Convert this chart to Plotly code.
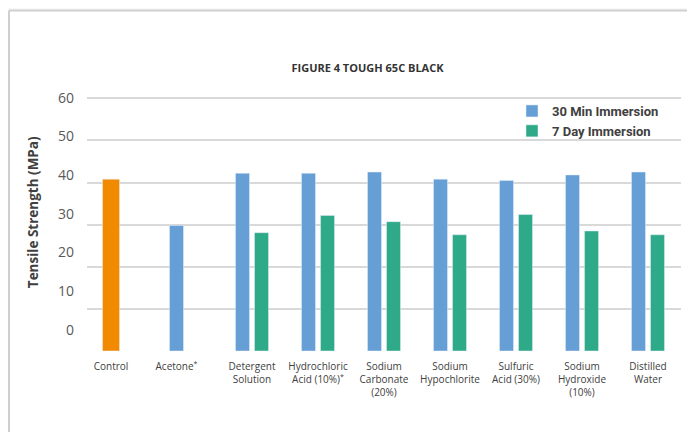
import plotly.graph_objects as go

# ---- data ----
categories = ["Control", "Acetone<sup>*</sup>", "Detergent<br>Solution", "Hydrochloric<br>Acid (10%)<sup>*</sup>",
              "Sodium<br>Carbonate<br>(20%)", "Sodium<br>Hypochlorite", "Sulfuric<br>Acid (30%)",
              "Sodium<br>Hydroxide<br>(10%)", "Distilled<br>Water"]
control_value = [40.8, None, None, None, None, None, None, None, None]
min30_values = [None, 29.8, 42.2, 42.2, 42.5, 40.8, 40.5, 41.8, 42.5]
day7_values = [None, None, 28.1, 32.2, 30.7, 27.6, 32.4, 28.5, 27.6]
y_ticks = [0, 10, 20, 30, 40, 50, 60]

# ---- style ----
PAGE = 8                      # default body margin of the html page
W, H = 695 - PAGE, 432 - PAGE
Y_TOP = 61.5                  # top of value range (headroom above the 60 grid line)
PX_PER_UNIT = (351 - 98) / 60
PL, PR, PB = 87, 681, 351     # plot area in screen pixels
PT = PB - Y_TOP * PX_PER_UNIT
L, T = PL - PAGE, PT - PAGE
R = W - (PL - PAGE) - (PR - PL)
B = H - (PT - PAGE) - (PB - PT)
PW, PH = PR - PL, PB - PT
BLUE, GREEN, ORANGE = "#669fd6", "#2eaa89", "#f28a00"
FONT = "Open Sans"

# label axis: labels are drawn 0 at 330 px and 60 at 97.3 px
LAB_PX = (330 - 97.3) / 60
Y2_BOT = -(PB - 330) / LAB_PX
Y2_TOP = 60 + (97.3 - PT) / LAB_PX

BW = 0.212          # bar width (category units)
OFF_BLUE, OFF_GREEN = -0.25, 0.038
CTRL_W, OFF_CTRL = 0.258, -0.265

x = list(range(len(categories)))

def px_x(p):  # screen px -> paper
    return (p - PL) / PW

def px_y(p):
    return (PB - p) / PH

def cx(p):   # screen px -> container
    return (p - PAGE) / W

def cy(p):
    return 1 - (p - PAGE) / H

# label positions: centre of the bars present in each category
tickpos = []
for i in x:
    centers = []
    if control_value[i] is not None:
        centers.append(i + OFF_CTRL + CTRL_W / 2)
    if min30_values[i] is not None:
        centers.append(i + OFF_BLUE + BW / 2)
    if day7_values[i] is not None:
        centers.append(i + OFF_GREEN + BW / 2)
    tickpos.append(sum(centers) / len(centers))

fig = go.Figure()
fig.add_trace(go.Bar(x=x, y=control_value, name="Control", marker_color=ORANGE,
                     width=CTRL_W, offset=OFF_CTRL, showlegend=False))
fig.add_trace(go.Bar(x=x, y=min30_values, name="30 Min Immersion", marker_color=BLUE,
                     width=BW, offset=OFF_BLUE))
fig.add_trace(go.Bar(x=x, y=day7_values, name="7 Day Immersion", marker_color=GREEN,
                     width=BW, offset=OFF_GREEN))
# carrier for the label axis
fig.add_trace(go.Scatter(x=[None], y=[None], yaxis="y2", showlegend=False, hoverinfo="skip"))

FRAME = "#cfcfcf"
fig.update_layout(
    width=W, height=H,
    margin=dict(l=L, r=R, t=T, b=B, autoexpand=False),
    paper_bgcolor="white",
    plot_bgcolor="white",
    barmode="overlay",
    font=dict(family=FONT, color="#404040"),
    xaxis=dict(range=[-0.5, len(categories) - 0.5], tickvals=tickpos, ticktext=categories,
               showgrid=False, zeroline=False, showline=False, ticks="",
               ticklabelstandoff=8,
               tickfont=dict(size=10, color="#404040"), tickangle=0, fixedrange=True),
    yaxis=dict(range=[0, Y_TOP], tickvals=y_ticks, showticklabels=False,
               showgrid=True, gridcolor="#d9d9d9", gridwidth=1.5, zeroline=False, showline=False),
    yaxis2=dict(overlaying="y", side="left", range=[Y2_BOT, Y2_TOP], tickvals=y_ticks,
                showgrid=False, zeroline=False, showline=False, ticks="",
                ticklabelstandoff=12, tickfont=dict(size=14, color="#595959")),
    legend=dict(xref="container", yref="container", x=cx(512), y=cy(96),
                xanchor="left", yanchor="top", bgcolor="rgba(0,0,0,0)",
                font=dict(size=13, color="#404040", weight="bold", family="Roboto"),
                tracegroupgap=0),
    title=dict(text="FIGURE 4 TOUGH 65C BLACK", xref="container", yref="container",
               x=cx(367.5), y=cy(68), xanchor="center", yanchor="middle",
               font=dict(size=11, color="#333333", weight="bold", family=FONT)),
    shapes=[
        dict(type="rect", xref="paper", yref="paper", x0=px_x(0), x1=px_x(720),
             y0=px_y(9), y1=px_y(0), fillcolor="#f7f7f7", line=dict(width=0), layer="below"),
        dict(type="line", xref="paper", yref="paper", x0=px_x(9), x1=px_x(720),
             y0=px_y(10), y1=px_y(10), line=dict(color=FRAME, width=2)),
        dict(type="line", xref="paper", yref="paper", x0=px_x(9), x1=px_x(9),
             y0=px_y(10), y1=px_y(450), line=dict(color=FRAME, width=2)),
    ],
    annotations=[dict(text="Tensile Strength (MPa)", xref="paper", yref="paper",
                      x=px_x(33), y=px_y(212), xanchor="center", yanchor="middle",
                      showarrow=False, textangle=-90,
                      font=dict(size=13.5, color="#404040", weight="bold"))],
)
fig.write_html("out.html")
